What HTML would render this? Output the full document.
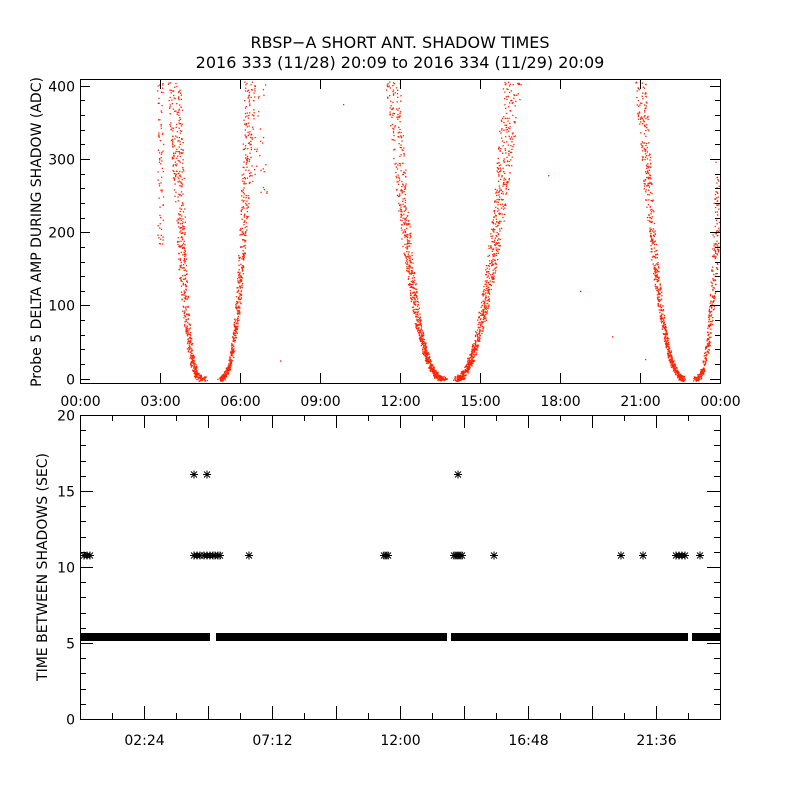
<!DOCTYPE html>
<html><head><meta charset="utf-8"><style>
html,body{margin:0;padding:0;background:#fff;}
svg{display:block;font-family:"DejaVu Sans","Liberation Sans",sans-serif;}
text{fill:#000;}
</style></head><body>
<svg id="s" width="800" height="800" viewBox="0 0 800 800" xmlns="http://www.w3.org/2000/svg">
<rect width="800" height="800" fill="#fff"/>
<text x="400" y="48" font-size="16" text-anchor="middle">RBSP−A SHORT ANT. SHADOW TIMES</text>
<text x="400" y="68" font-size="16" text-anchor="middle">2016 333 (11/28) 20:09 to 2016 334 (11/29) 20:09</text>
<g id="red" fill="#ff2200"></g>
<g id="blk" fill="#000"></g>
<g id="axes" stroke="#000" stroke-width="1" fill="none"></g>
<g id="lbl" font-size="14"></g>
<text transform="translate(41,232) rotate(-90)" font-size="14" text-anchor="middle">Probe 5 DELTA AMP DURING SHADOW (ADC)</text>
<text transform="translate(47,567) rotate(-90)" font-size="14" text-anchor="middle">TIME BETWEEN SHADOWS (SEC)</text>
</svg>
<script>
var NS="http://www.w3.org/2000/svg";
function el(p,t,a){var e=document.createElementNS(NS,t);for(var k in a)e.setAttribute(k,a[k]);p.appendChild(e);return e;}
var ax=document.getElementById('axes'),lb=document.getElementById('lbl'),red=document.getElementById('red'),blk=document.getElementById('blk');
el(ax,'rect',{x:80.5,y:79.5,width:640,height:304});
function vy(v){return 378.7-v*0.7325;}
for(var v=0;v<=400;v+=20){var y=Math.round(vy(v))+0.5;var L=(v%100==0)?10:5;el(ax,'line',{x1:80,y1:y,x2:80+L,y2:y});el(ax,'line',{x1:720,y1:y,x2:720-L,y2:y});
 if(v%100==0){var t=el(lb,'text',{x:75,y:y+5,'text-anchor':'end'});t.textContent=v;}}
var tl=['00:00','03:00','06:00','09:00','12:00','15:00','18:00','21:00','00:00'];
for(var i=0;i<=8;i++){var x=Math.round(80+i*80)+0.5;el(ax,'line',{x1:x,y1:383,x2:x,y2:373});el(ax,'line',{x1:x,y1:79,x2:x,y2:89});
 var t=el(lb,'text',{x:x,y:406,'text-anchor':'middle'});t.textContent=tl[i];}
el(ax,'rect',{x:80.5,y:415.5,width:640,height:304});
for(var v=0;v<=20;v++){var y=Math.round(719-v*15.2)+0.5;var L=(v%5==0)?13:6;el(ax,'line',{x1:80,y1:y,x2:80+L,y2:y});el(ax,'line',{x1:720,y1:y,x2:720-L,y2:y});
 if(v%5==0){var t=el(lb,'text',{x:75,y:y+5,'text-anchor':'end'});t.textContent=v;}}
var bl={2:'02:24',6:'07:12',10:'12:00',14:'16:48',18:'21:36'};
for(var i=0;i<=20;i++){var x=Math.round(80+i*32)+0.5;var L=(i%2==0)?13:6;el(ax,'line',{x1:x,y1:719,x2:x,y2:719-L});el(ax,'line',{x1:x,y1:415,x2:x,y2:415+L});
 if(bl[i]){var t=el(lb,'text',{x:x,y:745,'text-anchor':'middle'});t.textContent=bl[i];}}
[[80,210],[216,447],[451,688],[692,720]].forEach(function(b){el(blk,'rect',{x:b[0],y:633,width:b[1]-b[0],height:8});});
function star(x,y){var g=el(ax,'g',{});el(g,'line',{x1:x-4,y1:y,x2:x+4,y2:y});el(g,'line',{x1:x,y1:y-4,x2:x,y2:y+4});el(g,'line',{x1:x-3,y1:y-3,x2:x+3,y2:y+3});el(g,'line',{x1:x-3,y1:y+3,x2:x+3,y2:y-3});}
[84,87,90,194,197,200,204,207,210,213,215,218,220,249,384,386,388,454,456,458,460,462,494,621,643,676,679,682,685,700].forEach(function(x){star(x,555.5);});
[194,207,458].forEach(function(x){star(x,474.5);});
var seed=7;function r(){seed=(seed*16807)%2147483647;return seed/2147483647;}
function dot(x,v){if(v<-3||v>406||x<81||x>719)return;el(red,'rect',{x:x.toFixed(1),y:vy(v).toFixed(1),width:1.3,height:1.3});}
function branch(x0,dir,A,p,n,vmax,spread){for(var i=0;i<n;i++){var v=Math.pow(r(),1.9)*vmax;var x=x0+dir*A*Math.pow(v,p)+(r()-0.5)*spread*(1+v/150);dot(x,v+(r()-0.5)*8);}}
branch(205,-1,5.0,0.3,600,410,4);
branch(217,1,4.5,0.33,550,410,3);
for(var i=0;i<70;i++){dot(157+r()*6,180+r()*225);}
for(var i=0;i<50;i++){dot(247+r()*20,250+r()*155);}
branch(445,-1,4.76,0.4,800,410,4);
branch(455,1,3.2,0.48,850,410,5);
branch(685,-1,3.6,0.42,650,410,3);
branch(693,1,4.0,0.33,350,300,3);
[[280,25],[343,375],[548,278],[580,120],[612,58],[645,27]].forEach(function(p){dot(p[0],p[1]);});
</script>
</body></html>
